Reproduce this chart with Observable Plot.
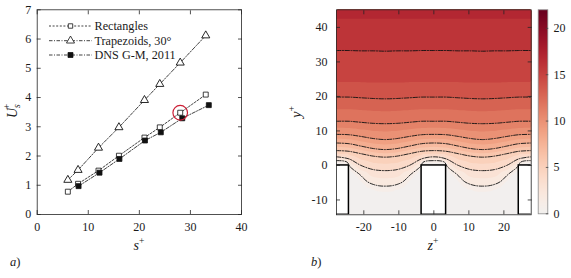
<!DOCTYPE html>
<html>
<head>
<meta charset="utf-8">
<script src="https://cdn.jsdelivr.net/npm/d3@7"></script>
<script src="https://cdn.jsdelivr.net/npm/@observablehq/plot@0.6"></script>
<style>
html,body{margin:0;padding:0;background:#fff;}
#chart{position:relative;width:571px;height:278px;overflow:hidden;font-family:"Liberation Serif",serif;}
#chart > svg{position:absolute;overflow:visible;}
#chart text{font-family:"Liberation Serif",serif;}
</style>
</head>
<body>
<div id="chart"></div>
<script>
// ---------------- Panel a data ----------------
const sTicks = [0, 10, 20, 30, 40];
const uTicks = [0, 1, 2, 3, 4, 5, 6, 7];
const seriesNames = ["Rectangles", "Trapezoids, 30°", "DNS G-M, 2011"];
const rectS = [6, 8, 12, 16, 21, 24, 28, 33];
const rectU = [0.78, 1.05, 1.50, 2.01, 2.63, 2.98, 3.48, 4.10];
const trapS = [6, 8, 12, 16, 21, 24, 28, 33];
const trapU = [1.18, 1.52, 2.28, 2.98, 3.91, 4.46, 5.19, 6.12];
const dnsS = [8.1, 12.2, 16.1, 21.1, 24.2, 28.4, 33.6];
const dnsU = [0.97, 1.43, 1.90, 2.53, 2.81, 3.29, 3.74];
const highlightS = [28];
const highlightU = [3.48];

// ---------------- Panel b data ----------------
const zTicks = [-20, -10, 0, 10, 20];
const yTicks = [-10, 0, 10, 20, 30, 40];
const cTicks = [0, 5, 10, 15, 20];
const zDomain = [-27.8, 27.8];
const yDomain = [-14.3, 45.1];
const cDomain = [0, 22];
const ridgeZ1 = [-31.25, -3.5, 24.25];
const ridgeZ2 = [-24.25, 3.5, 31.25];
const ridgeTop = 0;
const fillThresholds = [0,1,2,3,4,5,6,7,8,9,10,11,12,13,14,15,16,17,18,19,20,21,22];
const lineLevels = [16, 14, 12, 10, 8, 6, 4];
const zGrid = [-27.8, -24.25, -20.8, -17.3, -13.9, -10.5, -7.0, -3.5, 0, 3.5, 7.0, 10.5, 13.9, 17.3, 20.8, 24.25, 27.8];
const yU16 = [33.3, 33.3, 33.2, 33.2, 33.1, 33.2, 33.2, 33.3, 33.3, 33.3, 33.2, 33.2, 33.1, 33.2, 33.2, 33.3, 33.3];
const yU14 = [19.8, 19.8, 19.6, 19.4, 19.3, 19.4, 19.6, 19.8, 19.8, 19.8, 19.6, 19.4, 19.3, 19.4, 19.6, 19.8, 19.8];
const yU12 = [12.8, 12.8, 12.5, 12.2, 12.1, 12.2, 12.5, 12.8, 12.8, 12.8, 12.5, 12.2, 12.1, 12.2, 12.5, 12.8, 12.8];
const yU10 = [9.0, 8.9, 8.4, 7.8, 7.5, 7.8, 8.4, 8.9, 9.0, 8.9, 8.4, 7.8, 7.5, 7.8, 8.4, 8.9, 9.0];
const yU8 = [6.5, 6.3, 5.6, 4.9, 4.6, 4.9, 5.6, 6.3, 6.5, 6.3, 5.6, 4.9, 4.6, 4.9, 5.6, 6.3, 6.5];
const yU6 = [4.3, 4.1, 3.4, 2.7, 2.4, 2.7, 3.4, 4.1, 4.3, 4.1, 3.4, 2.7, 2.4, 2.7, 3.4, 4.1, 4.3];
const yU4 = [2.5, 1.9, 0.0, -1.2, -1.5, -1.2, 0.0, 1.9, 2.5, 1.9, 0.0, -1.2, -1.5, -1.2, 0.0, 1.9, 2.5];
const zU2 = [-27.8, -25.8, -24.7, -24.0, -23.0, -21.2, -19.0, -17.3, -15.6, -13.9, -12.2, -10.5, -8.8, -6.6, -4.8, -3.8, -3.1, -2.0, 0, 2.0, 3.1, 3.8, 4.8, 6.6, 8.8, 10.5, 12.2, 13.9, 15.6, 17.3, 19.0, 21.2, 23.0, 24.0, 24.7, 25.8, 27.8];
const yU2 = [1.4, 1.3, 0.9, -0.3, -1.2, -2.6, -4.7, -5.5, -5.9, -6.0, -5.9, -5.5, -4.7, -2.6, -1.2, -0.3, 0.9, 1.3, 1.4, 1.3, 0.9, -0.3, -1.2, -2.6, -4.7, -5.5, -5.9, -6.0, -5.9, -5.5, -4.7, -2.6, -1.2, -0.3, 0.9, 1.3, 1.4];
// band boundaries seen in the filled contours (no line drawn)
const zU1 = [-23.6, -21.4, -19.2, -17.3, -15.6, -13.9, -12.2, -10.5, -8.6, -6.4, -4.2, 4.2, 6.4, 8.6, 10.5, 12.2, 13.9, 15.6, 17.3, 19.2, 21.4, 23.6];
const yU1 = [-1.6, -3.8, -6.1, -7.0, -7.4, -7.5, -7.4, -7.0, -6.1, -3.8, -1.6, -1.6, -3.8, -6.1, -7.0, -7.4, -7.5, -7.4, -7.0, -6.1, -3.8, -1.6];
const yU17 = [42.5, 42.5, 42.5, 42.5, 42.5, 42.5, 42.5, 42.5, 42.5, 42.5, 42.5, 42.5, 42.5, 42.5, 42.5, 42.5, 42.5];
const yU15 = [24.1, 24.1, 24.1, 24.0, 24.0, 24.0, 24.1, 24.1, 24.1, 24.1, 24.1, 24.0, 24.0, 24.0, 24.1, 24.1, 24.1];
const uTopEdge = [17.4, 17.4, 17.4, 17.4, 17.4, 17.4, 17.4, 17.4, 17.4, 17.4, 17.4, 17.4, 17.4, 17.4, 17.4, 17.4, 17.4];

// ---------------- tables ----------------
const rectRows = rectS.map((s, i) => ({s, u: rectU[i]}));
const trapRows = trapS.map((s, i) => ({s, u: trapU[i]}));
const dnsRows = dnsS.map((s, i) => ({s, u: dnsU[i]}));
const hiRows = highlightS.map((s, i) => ({s, u: highlightU[i]}));

const lineYs = [yU16, yU14, yU12, yU10, yU8, yU6, yU4];
const lineRows = [];
lineLevels.forEach((lv, k) => zGrid.forEach((z, i) => lineRows.push({z, y: lineYs[k][i], level: lv})));
zU2.forEach((z, i) => lineRows.push({z, y: yU2[i], level: 2}));

const fieldRows = lineRows.map(d => ({z: d.z, y: d.y, u: d.level}));
zU1.forEach((z, i) => fieldRows.push({z, y: yU1[i], u: 1}));
zGrid.forEach((z, i) => {
  fieldRows.push({z, y: yU17[i], u: 17});
  fieldRows.push({z, y: yU15[i], u: 15});
  fieldRows.push({z, y: yDomain[1], u: uTopEdge[i]});
});
// no-slip walls: u = 0 on ridge surfaces and groove floor
const wallDepths = [0, -3.5, -7, -10.5, yDomain[0]];
ridgeZ1.forEach((z1, r) => {
  const z2 = ridgeZ2[r];
  const a = Math.max(z1, zDomain[0]), b = Math.min(z2, zDomain[1]);
  [a, (a + b) / 2, b].forEach(z => fieldRows.push({z, y: ridgeTop, u: 0}));
  [z1, z2].forEach(z => {
    if (z >= zDomain[0] && z <= zDomain[1]) wallDepths.forEach(y => fieldRows.push({z, y, u: 0}));
  });
  fieldRows.push({z: a, y: yDomain[0], u: 0});
  fieldRows.push({z: b, y: yDomain[0], u: 0});
});
[-20.8, -17.3, -13.9, -10.5, -7.0, 7.0, 10.5, 13.9, 17.3, 20.8].forEach(z => fieldRows.push({z, y: yDomain[0], u: 0}));
const ridgeRows = ridgeZ1.map((z1, i) => ({z1, z2: ridgeZ2[i], y1: yDomain[0], y2: ridgeTop}));

// ---------------- styles ----------------
const serif = "Liberation Serif";
const baseStyle = {fontFamily: serif, fontSize: "12px", color: "#1a1a1a", background: "transparent", overflow: "visible"};
const frameColor = "#262626";
const colorOpts = {type: "linear", domain: cDomain, interpolate: t => d3.interpolateRdBu(0.5 - 0.5 * t)};
const fmt = d => String(d);

function boxAxes(xt, yt, padX, padY) {
  return [
    Plot.axisX(xt, {anchor: "bottom", tickSize: 0, tickPadding: padX, label: null, tickFormat: fmt}),
    Plot.axisX(xt, {anchor: "bottom", tickSize: -4, text: null, label: null, stroke: frameColor, strokeWidth: 0.8}),
    Plot.axisX(xt, {anchor: "top", tickSize: -4, text: null, label: null, stroke: frameColor, strokeWidth: 0.8}),
    Plot.axisY(yt, {anchor: "left", tickSize: 0, tickPadding: padY, label: null, tickFormat: fmt}),
    Plot.axisY(yt, {anchor: "left", tickSize: -4, text: null, label: null, stroke: frameColor, strokeWidth: 0.8}),
    Plot.axisY(yt, {anchor: "right", tickSize: -4, text: null, label: null, stroke: frameColor, strokeWidth: 0.8})
  ];
}

// ---------------- Panel a ----------------
const plotA = Plot.plot({
  width: 250, height: 240,
  marginLeft: 36.7, marginRight: 9, marginTop: 9.3, marginBottom: 26,
  x: {domain: [0, 40]}, y: {domain: [0, 7]},
  style: baseStyle,
  marks: [
    Plot.line(rectRows, {x: "s", y: "u", stroke: "#111", strokeWidth: 0.8, strokeDasharray: "2,1.6"}),
    Plot.line(trapRows, {x: "s", y: "u", stroke: "#111", strokeWidth: 0.8, strokeDasharray: "3.5,1.5,1,1.5"}),
    Plot.line(dnsRows, {x: "s", y: "u", stroke: "#111", strokeWidth: 0.8, strokeDasharray: "3.5,1.5,1,1.5"}),
    Plot.dot(rectRows, {x: "s", y: "u", symbol: "square", r: 2.8, fill: "white", stroke: "#111", strokeWidth: 0.8}),
    Plot.dot(trapRows, {x: "s", y: "u", symbol: "triangle", r: 3.0, fill: "white", stroke: "#111", strokeWidth: 0.9}),
    Plot.dot(dnsRows, {x: "s", y: "u", symbol: "square", r: 2.8, fill: "#111", stroke: "#111", strokeWidth: 0.8}),
    Plot.dot(hiRows, {x: "s", y: "u", r: 7.3, fill: "none", stroke: "#cc1f36", strokeWidth: 1.2}),
    Plot.frame({stroke: frameColor, strokeWidth: 0.8}),
    ...boxAxes(sTicks, uTicks, 8, 6)
  ]
});
plotA.style.left = "0px"; plotA.style.top = "0px";

// ---------------- Panel b ----------------
const plotB = Plot.plot({
  width: 250, height: 240,
  marginLeft: 46, marginRight: 9.3, marginTop: 9.3, marginBottom: 25.7,
  x: {domain: zDomain}, y: {domain: yDomain}, color: colorOpts,
  style: baseStyle,
  marks: [
    Plot.contour(fieldRows, {x: "z", y: "y", fill: "u", interpolate: "barycentric", thresholds: fillThresholds, stroke: "none"}),
    Plot.line(lineRows, {x: "z", y: "y", z: "level", stroke: "#111", strokeWidth: 0.9, strokeDasharray: "4.5,1.5,1,1.5", curve: "catmull-rom", clip: true}),
    Plot.rect(ridgeRows, {x1: "z1", x2: "z2", y1: "y1", y2: "y2", fill: "white", stroke: "#000", strokeWidth: 1.5, clip: true}),
    Plot.frame({stroke: frameColor, strokeWidth: 0.8}),
    ...boxAxes(zTicks, yTicks, 8, 9)
  ]
});
plotB.style.left = "290px"; plotB.style.top = "0px";

// ---------------- Colorbar ----------------
const plotC = Plot.plot({
  width: 41, height: 240,
  marginLeft: 7.7, marginRight: 23.7, marginTop: 9.3, marginBottom: 26.7,
  x: {domain: [0, 1], axis: null}, y: {domain: cDomain}, color: colorOpts,
  style: baseStyle,
  marks: [
    Plot.raster({x1: 0, x2: 1, y1: cDomain[0], y2: cDomain[1], fill: (x, y) => y, pixelSize: 1}),
    Plot.frame({stroke: "#8c8c8c", strokeWidth: 0.8}),
    Plot.axisY(cTicks, {anchor: "right", tickSize: 0, tickPadding: 5.7, label: null, tickFormat: fmt}),
    Plot.axisY(cTicks, {anchor: "right", tickSize: -2.5, text: null, label: null, stroke: "#444", strokeWidth: 0.8})
  ]
});
plotC.style.left = "530px"; plotC.style.top = "0px";

const chart = document.getElementById("chart");
chart.append(plotA, plotB, plotC);

// ---------------- Overlay: legend and labels ----------------
const ov = d3.create("svg").attr("width", 571).attr("height", 278)
  .style("left", "0px").style("top", "0px").attr("font-family", serif).attr("fill", "#1a1a1a");

const legendY = [26, 40.7, 55];
const legendDash = ["2,1.6", "3.5,1.5,1,1.5", "3.5,1.5,1,1.5"];
const legendSym = [d3.symbolSquare, d3.symbolTriangle, d3.symbolSquare];
const legendR = [2.5, 3.0, 2.8];
const legendFill = ["white", "white", "#111"];
seriesNames.forEach((name, i) => {
  const g = ov.append("g").attr("transform", `translate(0,${legendY[i]})`);
  g.append("line").attr("x1", 49).attr("x2", 92).attr("y1", 0).attr("y2", 0)
    .attr("stroke", "#111").attr("stroke-width", 0.8).attr("stroke-dasharray", legendDash[i]);
  g.append("path").attr("transform", "translate(70.5,0)")
    .attr("d", d3.symbol(legendSym[i], Math.PI * legendR[i] * legendR[i])())
    .attr("fill", legendFill[i]).attr("stroke", "#111").attr("stroke-width", 0.8);
  g.append("text").attr("x", 94.5).attr("y", 0).attr("dy", "0.33em")
    .attr("font-size", 12.2).text(name);
});

function supLabel(x, y, base, sub, rotate) {
  const g = ov.append("g").attr("transform", `translate(${x},${y})${rotate ? " rotate(-90)" : ""}`);
  const t = g.append("text").attr("text-anchor", "middle").attr("font-size", 14);
  t.append("tspan").attr("font-style", "italic").text(base);
  if (sub) {
    t.append("tspan").attr("font-style", "italic").attr("font-size", 9.5).attr("dy", 3).text(sub);
    t.append("tspan").attr("font-size", 9.5).attr("dx", -5).attr("dy", -9.5).text("+");
  } else {
    t.append("tspan").attr("font-size", 9.5).attr("dy", -5.5).text("+");
  }
}
supLabel(16.5, 111, "U", "s", true);
supLabel(139, 249.5, "s", null, false);
supLabel(433, 249.5, "z", null, false);
supLabel(300.5, 112, "y", null, true);

function panelTag(x, y, letter) {
  const t = ov.append("text").attr("x", x).attr("y", y).attr("font-size", 12.5);
  t.append("tspan").attr("font-style", "italic").text(letter);
  t.append("tspan").text(")");
}
panelTag(10, 266, "a");
panelTag(311, 266, "b");

chart.append(ov.node());
</script>
</body>
</html>
